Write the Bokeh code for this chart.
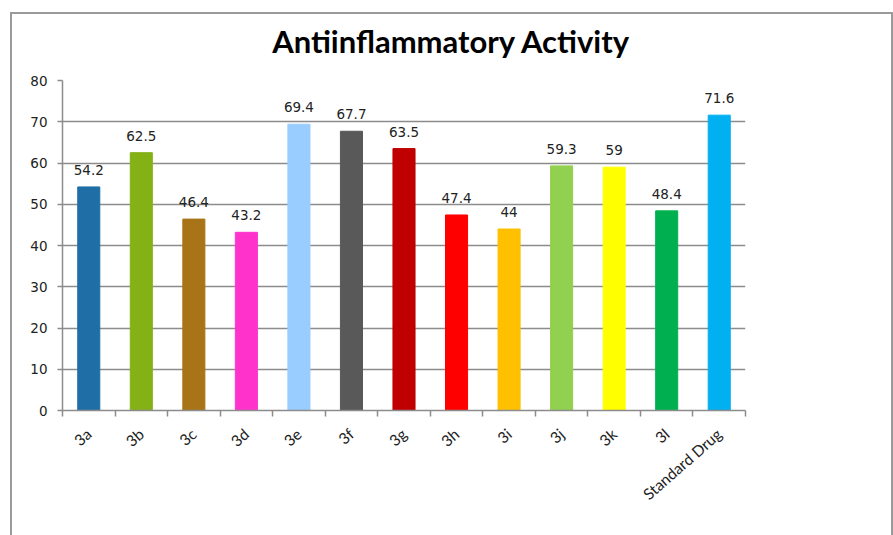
import math
from bokeh.plotting import figure
from bokeh.models import ColumnDataSource, FixedTicker, Range1d, Label
from bokeh.core.properties import value
from bokeh.embed import file_html
from bokeh.resources import INLINE

title_text = "Antiinflammatory Activity"
categories = ["3a", "3b", "3c", "3d", "3e", "3f", "3g", "3h", "3i", "3j", "3k", "3l", "Standard Drug"]
activity = [54.2, 62.5, 46.4, 43.2, 69.4, 67.7, 63.5, 47.4, 44, 59.3, 59, 48.4, 71.6]
bar_colors = ["#1F6FA6", "#84B116", "#A97417", "#FF33CC", "#99CCFF", "#595959", "#C00000",
              "#FF0000", "#FFC000", "#92D050", "#FFFF00", "#00B050", "#00B0F0"]
y_ticks = [0, 10, 20, 30, 40, 50, 60, 70, 80]

n = len(categories)
centers = [i + 0.5 for i in range(n)]
labels = [("%g" % v) for v in activity]

src = ColumnDataSource(dict(x=centers, top=activity, color=bar_colors, label=labels))

p = figure(width=883, height=523, output_backend="svg", toolbar_location=None,
           x_range=Range1d(0, n), y_range=Range1d(0, 80),
           min_border_left=50, min_border_right=150, min_border_top=66, min_border_bottom=127)

# chart title, placed in the panel above the plot frame
p.add_layout(Label(x=389, y=40, x_units="screen", y_units="screen", text=title_text,
                   text_align="center", text_baseline="middle",
                   text_font="Lato", text_font_size="31px", text_font_style="bold",
                   text_color="#000000"), "above")

p.vbar(x="x", top="top", width=0.42, bottom=0, color="color", source=src)
p.text(x="x", y="top", text="label", source=src, text_align="center", text_baseline="bottom",
       y_offset=-12, text_font=value("DejaVu Sans"), text_font_size="13.5px", text_color="#222222")

# axes
grey = "#8C8C8C"
p.xaxis.ticker = FixedTicker(ticks=centers, minor_ticks=list(range(n + 1)))
p.xaxis.major_label_overrides = {c: l for c, l in zip(centers, categories)}
p.xaxis.major_label_orientation = 0.72
p.xaxis.major_tick_line_color = None
p.xaxis.minor_tick_out = 6
p.xaxis.minor_tick_in = 0
p.xaxis.minor_tick_line_color = grey
p.xaxis.minor_tick_line_width = 1.5
p.xaxis.axis_line_color = grey
p.xaxis.axis_line_width = 1.5
p.xaxis.major_label_text_font = "Lato"
p.xaxis.major_label_text_font_size = "15.5px"
p.xaxis.major_label_text_color = "#222222"
p.xaxis.major_label_standoff = 15

p.yaxis.ticker = FixedTicker(ticks=y_ticks)
p.yaxis.major_tick_out = 5
p.yaxis.major_tick_in = 0
p.yaxis.minor_tick_line_color = None
p.yaxis.major_tick_line_color = grey
p.yaxis.major_tick_line_width = 1.5
p.yaxis.axis_line_color = grey
p.yaxis.axis_line_width = 1.5
p.yaxis.major_label_text_font = "DejaVu Sans"
p.yaxis.major_label_text_font_size = "13.5px"
p.yaxis.major_label_text_color = "#222222"
p.yaxis.major_label_standoff = 10

p.xgrid.grid_line_color = None
p.ygrid.grid_line_color = grey
p.ygrid.grid_line_width = 1.5
p.ygrid.ticker = FixedTicker(ticks=y_ticks)
p.outline_line_color = None

p.styles = {"border-top": "2px solid #9a9a9a", "border-left": "2px solid #9a9a9a",
            "border-right": "2px solid #9a9a9a", "box-sizing": "border-box",
            "margin-left": "10px", "margin-top": "12px"}

open("out.html", "w").write(file_html(p, INLINE))
